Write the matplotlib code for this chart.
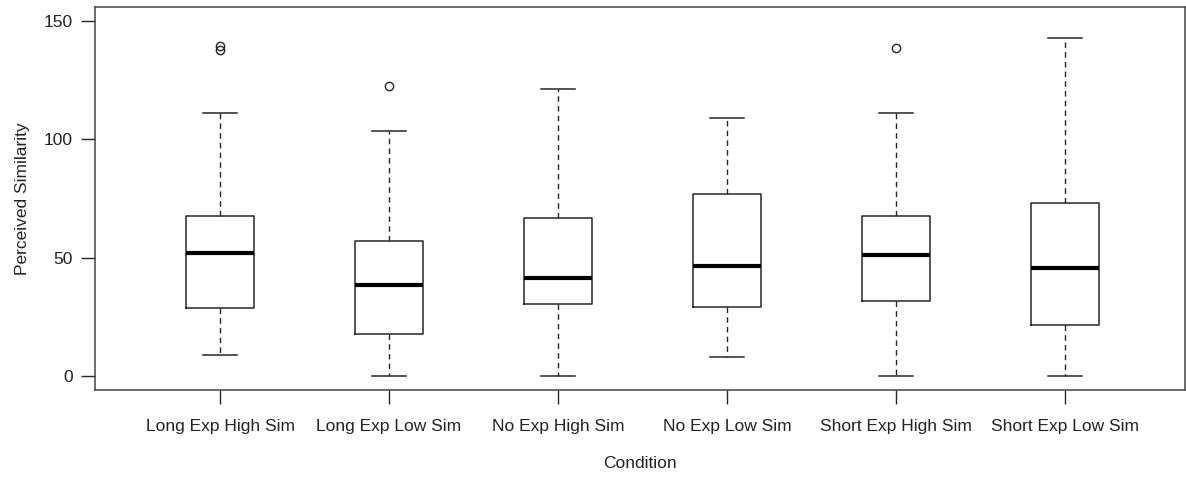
import matplotlib
matplotlib.use("Agg")
import matplotlib.pyplot as plt

categories = ["Long Exp High Sim", "Long Exp Low Sim", "No Exp High Sim",
              "No Exp Low Sim", "Short Exp High Sim", "Short Exp Low Sim"]
whisker_low = [8.9, 0.0, 0.0, 7.9, 0.0, 0.0]
q1 = [28.9, 17.9, 30.4, 29.0, 31.7, 21.7]
median = [51.8, 38.3, 41.5, 46.3, 51.0, 45.5]
q3 = [67.5, 57.0, 66.9, 76.9, 67.5, 73.0]
whisker_high = [111.3, 103.5, 121.1, 108.9, 111.0, 142.7]
outliers = [[137.8, 139.6], [122.6], [], [], [138.7], []]
y_ticks = [0, 50, 100, 150]

plt.rcParams['font.family'] = ['Liberation Sans', 'DejaVu Sans']

fig = plt.figure(figsize=(11.86, 4.79), dpi=100)
ax = fig.add_axes([95/1186, 1-390/479, 1090/1186, 383/479])

stats = []
for i, c in enumerate(categories):
    stats.append(dict(label=c, whislo=whisker_low[i], q1=q1[i], med=median[i],
                      q3=q3[i], whishi=whisker_high[i], fliers=outliers[i]))

lc = '#262626'
ax.bxp(stats, positions=range(1, len(categories)+1), widths=0.4,
       boxprops=dict(color=lc, linewidth=1.1),
       medianprops=dict(color='black', linewidth=3.0, solid_capstyle='butt'),
       whiskerprops=dict(color=lc, linewidth=1.0, linestyle=(0, (4, 3))),
       capprops=dict(color=lc, linewidth=1.1),
       capwidths=0.2,
       flierprops=dict(marker='o', markerfacecolor='none', markeredgecolor=lc,
                       markersize=6.0, markeredgewidth=1.0),
       manage_ticks=False)

ax.set_xlim(0.26, 6.71)
ax.set_ylim(-5.9, 155.9)
ax.set_yticks(y_ticks)
ax.set_yticklabels([str(t) for t in y_ticks])
ax.set_xticks(range(1, len(categories)+1))
ax.set_xticklabels(categories)
ax.tick_params(axis='both', length=10, width=1.0, color=lc, labelsize=12.5,
               labelcolor='#222222')
ax.tick_params(axis='x', pad=11)
ax.tick_params(axis='y', pad=6)
for s in ax.spines.values():
    s.set_color('#444444')
    s.set_linewidth(1.1)

ax.set_xlabel("Condition", fontsize=12.5, color='#222222', labelpad=16)
ax.set_ylabel("Perceived Similarity", fontsize=12.5, color='#222222', labelpad=10)

fig.savefig("out.png", dpi=100)
